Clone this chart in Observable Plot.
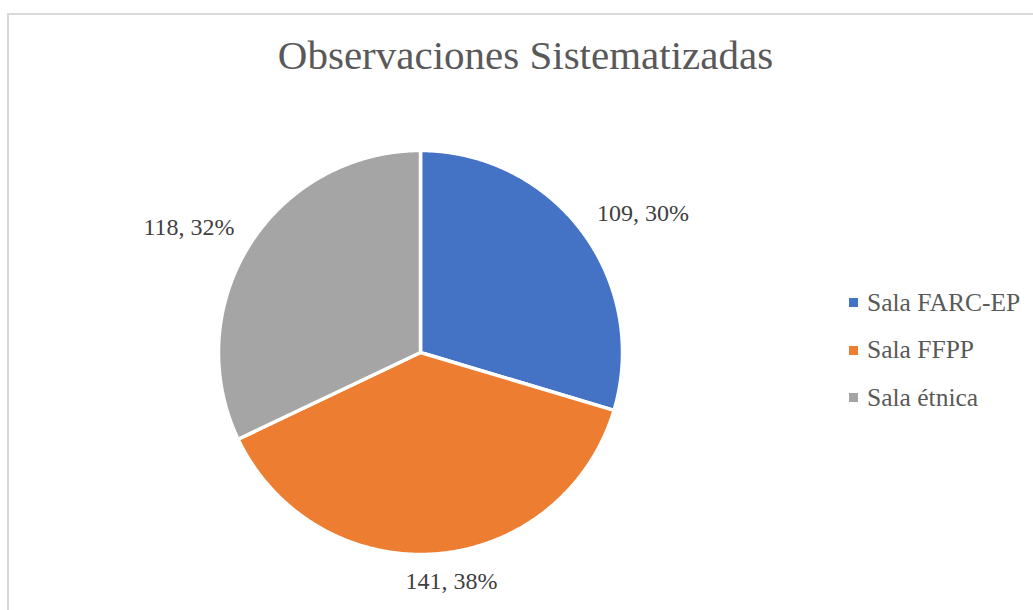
<!DOCTYPE html>
<html><head><meta charset="utf-8">
<script src="https://cdn.jsdelivr.net/npm/d3@7"></script>
<script src="https://cdn.jsdelivr.net/npm/@observablehq/plot@0.6"></script>
<style>
body{margin:0;background:#fff;overflow:hidden}
#wrap{position:relative;width:1033px;height:610px;overflow:hidden;background:#fff}
#frame{position:absolute;left:7px;top:13px;width:1100px;height:700px;border:2px solid #d9d9d9;box-sizing:border-box}
#title{position:absolute;left:0;width:1051px;top:35px;text-align:center;font-family:"Liberation Serif",serif;font-size:41px;line-height:41px;color:#595959;white-space:nowrap}
#chart{position:absolute;left:0;top:0}
#legend{position:absolute;left:849px;top:279px}
#legend > div{font-family:"Liberation Serif",serif !important;font-size:25.5px !important;color:#595959 !important;margin:0 !important;min-height:0 !important}
#legend > div > div{height:47.5px !important;padding-bottom:0 !important;display:flex !important;align-items:center !important}
#legend svg{margin-right:9px !important}
</style>
</head><body>
<div id="wrap">
  <div id="frame"></div>
  <div id="title">Observaciones Sistematizadas</div>
  <div id="chart"></div>
  <div id="legend"></div>
</div>
<script>
const categories = ["Sala FARC-EP", "Sala FFPP", "Sala étnica"];
const values = [109, 141, 118];
const colors = ["#4472C4", "#ED7D31", "#A5A5A5"];

const R = 202;
const total = d3.sum(values);
const arcs = d3.pie().sort(null)(values);

const pts = [];
arcs.forEach((a, i) => {
  const cat = categories[i];
  pts.push({cat, x: 0, y: 0});
  const n = Math.max(2, Math.ceil((a.endAngle - a.startAngle) / 0.005));
  for (let k = 0; k <= n; k++) {
    const t = a.startAngle + (a.endAngle - a.startAngle) * k / n;
    pts.push({cat, x: R * Math.sin(t), y: R * Math.cos(t)});
  }
  pts.push({cat, x: 0, y: 0});
});

const labels = arcs.map((a, i) => {
  const m = (a.startAngle + a.endAngle) / 2;
  const s = Math.sin(m), c = Math.cos(m);
  return {
    x: (R + 18) * s, y: (R + 18) * c,
    text: `${values[i]}, ${Math.round(values[i] / total * 100)}%`,
    anchor: s > 0.2 ? "start" : s < -0.2 ? "end" : "middle",
    line: c > 0 ? "bottom" : "top"
  };
});

const plot = Plot.plot({
  width: 1033, height: 610, margin: 0,
  style: {background: "transparent"},
  x: {domain: [-420, 613], axis: null},
  y: {domain: [-258, 352], axis: null},
  color: {domain: categories, range: colors},
  marks: [
    Plot.line(pts, {x: "x", y: "y", z: "cat", fill: "cat", stroke: "white", strokeWidth: 3.5, strokeLinejoin: "round", curve: "linear"}),
    ...labels.map(d => Plot.text([d], {x: "x", y: "y", text: "text", textAnchor: d.anchor, lineAnchor: d.line, dx: d.anchor === "middle" ? 14 : 0, fontSize: 24, fill: "#404040", fontFamily: "Liberation Serif"}))
  ]
});
document.getElementById("chart").appendChild(plot);

const leg = plot.legend("color", {legend: "swatches", columns: 1, swatchSize: 9});
document.getElementById("legend").appendChild(leg);
</script>
</body></html>
